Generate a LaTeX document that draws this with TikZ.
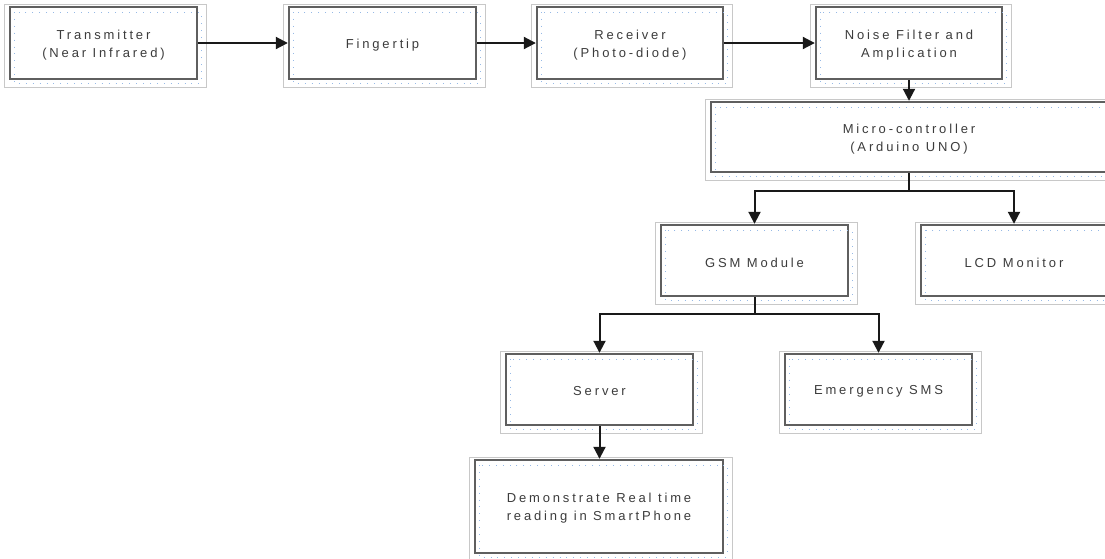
\documentclass[tikz,border=0pt]{standalone}
\usepackage{fontspec}
\setmainfont{Liberation Sans}
\usetikzlibrary{arrows.meta,calc}
\definecolor{boxline}{RGB}{95,95,95}
\definecolor{outerline}{RGB}{200,200,200}
\definecolor{dotblue}{RGB}{150,185,230}
\definecolor{txt}{RGB}{60,60,60}
\tikzset{
  blk/.style={draw=boxline, line width=2.4pt, fill=white, rectangle, inner sep=0pt},
  blktext/.style={align=center, text=txt, inner sep=0pt,
    font=\addfontfeature{LetterSpace=22}\fontsize{13}{18}\selectfont},
  outerbox/.style={draw=outerline, line width=0.8pt},
  dotbox/.style={draw=dotblue, line width=0.8pt, dash pattern=on 0.9pt off 6pt},
  conn/.style={draw=black!90, line width=2pt, -{Triangle[length=12pt,width=12pt]}},
  seg/.style={draw=black!90, line width=2pt}
}
\newcommand\flowbox[6]{%
  \draw[outerbox] ({#2-#4/2-6},{#3-#5/2-3}) rectangle ({#2+#4/2+9},{#3+#5/2+8});
  \node[blk, minimum width=#4pt, minimum height=#5pt] (#1) at (#2,#3) {};
  \draw[dotbox] ({#2-#4/2+4},{#3-#5/2+5}) rectangle ({#2+#4/2+4},{#3+#5/2+4});
  \node[blktext] (#1-t) at (#2,{#3+2}) {#6};
}
\begin{document}
\begin{tikzpicture}[x=1pt,y=-1pt]
\useasboundingbox (0,0) rectangle (1105,558);
\clip (0,0) rectangle (1105,558);
\flowbox{T}{103.5}{43}{187}{72}{Transmitter\\(Near Infrared)}
\flowbox{F}{382.5}{43}{187}{72}{Fingertip}
\flowbox{R}{630}{43}{186}{72}{Receiver\\(Photo-diode)}
\flowbox{N}{909}{43}{186}{72}{Noise Filter and\\Amplication}
\flowbox{M}{909}{137}{396}{70}{Micro-controller\\(Arduino UNO)}
\flowbox{G}{754.5}{260.5}{187}{71}{GSM Module}
\flowbox{L}{1014}{260.5}{186}{71}{LCD Monitor}
\flowbox{S}{599.5}{389.5}{187}{71}{Server}
\flowbox{E}{878.5}{389.5}{187}{71}{Emergency SMS}
\flowbox{D}{599}{506.5}{248}{93}{Demonstrate Real time\\reading in SmartPhone}
\draw[conn] (T.east) -- (F.west);
\draw[conn] (F.east) -- (R.west);
\draw[conn] (R.east) -- (N.west);
\draw[conn] (N.south) -- (M.north);
\coordinate (mj) at ($(M.south)+(0,18)$);
\draw[seg] (M.south) -- (mj);
\draw[conn] (mj) -| (G.north);
\draw[conn] (mj) -| (L.north);
\coordinate (gj) at ($(G.south)+(0,17)$);
\draw[seg] (G.south) -- (gj);
\draw[conn] (gj) -| (S.north);
\draw[conn] (gj) -| (E.north);
\draw[conn] (S.south) -- (S.south |- D.north);
\end{tikzpicture}
\end{document}
